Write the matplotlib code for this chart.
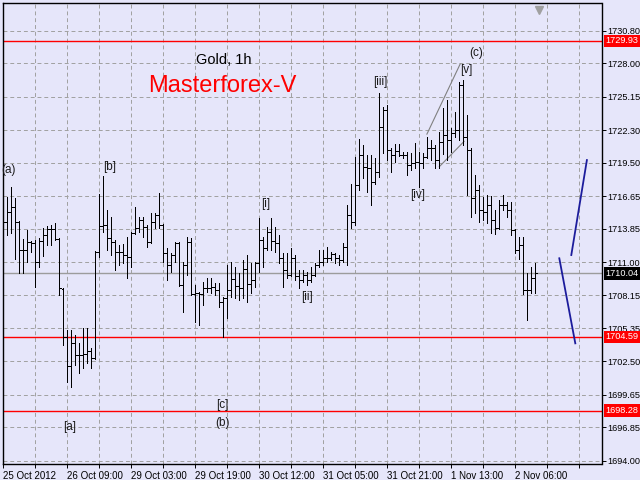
import matplotlib
matplotlib.use("Agg")
import matplotlib.pyplot as plt
import matplotlib.transforms as mtransforms
from matplotlib.collections import LineCollection

plt.rcParams["font.family"] = ["Liberation Sans", "DejaVu Sans"]

BG = "#e6e6fa"

# hourly OHLC, Gold, 25 Oct 2012 17:00 .. 2 Nov 2012
opens = [
    1715.88, 1714.43, 1715.28, 1715.71, 1714.43, 1712.03, 1712.03, 1712.72, 1712.63, 1711.00,
    1712.80, 1713.31, 1713.83, 1713.83, 1712.97, 1708.69, 1704.60, 1702.10, 1704.07, 1703.04,
    1703.04, 1703.13, 1703.39, 1702.79, 1711.86, 1714.09, 1714.17, 1713.06, 1712.72, 1711.86,
    1711.86, 1711.60, 1711.43, 1713.48, 1713.91, 1714.60, 1714.00, 1712.72, 1714.43, 1715.03,
    1714.17, 1711.77, 1710.75, 1711.60, 1712.63, 1709.03, 1710.75, 1712.72, 1708.26, 1708.35,
    1708.26, 1708.78, 1708.78, 1708.86, 1708.61, 1707.58, 1707.92, 1708.61, 1709.55, 1708.95,
    1708.78, 1710.40, 1709.12, 1709.46, 1710.92, 1712.89, 1712.20, 1713.57, 1712.80, 1712.63,
    1711.34, 1710.32, 1709.89, 1711.34, 1709.80, 1709.46, 1709.89, 1709.46, 1709.89, 1710.75,
    1711.00, 1711.34, 1711.34, 1711.69, 1711.34, 1711.17, 1712.29, 1715.03, 1714.43, 1717.59,
    1720.16, 1719.13, 1719.05, 1717.85, 1718.71, 1722.56, 1724.01, 1720.59, 1720.16, 1720.50,
    1720.16, 1720.16, 1719.30, 1719.48, 1719.56, 1719.48, 1719.99, 1720.76, 1720.76, 1719.73,
    1721.27, 1721.87, 1721.45, 1722.04, 1722.30, 1726.15, 1721.70, 1720.59, 1716.48, 1717.17,
    1715.45, 1715.28, 1715.88, 1714.60, 1713.91, 1715.88, 1715.88, 1715.45, 1713.74, 1712.03,
    1712.46, 1708.61, 1708.61, 1709.63,
]
highs = [
    1717.00, 1716.57, 1717.42, 1716.49, 1714.51, 1712.97, 1713.74, 1712.80, 1712.89, 1713.06,
    1713.91, 1714.09, 1714.17, 1714.34, 1713.06, 1708.78, 1705.18, 1705.18, 1704.75, 1704.07,
    1705.35, 1705.35, 1703.64, 1711.95, 1716.82, 1718.37, 1715.45, 1714.86, 1712.89, 1712.46,
    1712.54, 1713.14, 1713.57, 1715.71, 1714.86, 1714.86, 1714.17, 1715.20, 1715.20, 1716.91,
    1714.26, 1712.20, 1711.77, 1712.72, 1712.72, 1711.00, 1713.14, 1713.06, 1709.03, 1708.43,
    1709.29, 1709.63, 1709.63, 1709.20, 1709.20, 1708.01, 1710.75, 1711.00, 1710.57, 1710.06,
    1711.17, 1711.60, 1710.92, 1711.00, 1714.77, 1713.14, 1714.00, 1714.77, 1714.00, 1713.31,
    1711.77, 1711.77, 1712.20, 1711.60, 1710.32, 1710.32, 1710.15, 1710.57, 1710.92, 1712.03,
    1712.03, 1712.29, 1711.86, 1711.77, 1711.60, 1712.63, 1715.88, 1717.68, 1719.99, 1721.53,
    1721.02, 1720.16, 1720.16, 1719.91, 1725.47, 1724.27, 1724.44, 1720.76, 1721.10, 1721.10,
    1720.42, 1720.42, 1720.33, 1721.19, 1720.42, 1720.33, 1721.70, 1721.45, 1721.02, 1722.13,
    1724.18, 1724.87, 1722.47, 1723.84, 1726.41, 1726.58, 1723.59, 1720.76, 1718.45, 1717.59,
    1716.57, 1716.74, 1716.65, 1715.45, 1716.31, 1716.74, 1716.14, 1716.14, 1713.83, 1713.14,
    1713.14, 1710.06, 1710.57, 1710.92,
]
lows = [
    1712.29, 1713.31, 1713.48, 1711.26, 1710.06, 1710.06, 1711.00, 1711.86, 1708.86, 1710.57,
    1711.52, 1712.46, 1712.46, 1712.89, 1708.18, 1703.90, 1700.73, 1700.30, 1702.19, 1701.50,
    1701.93, 1702.36, 1701.93, 1702.70, 1711.43, 1713.57, 1712.03, 1711.60, 1710.32, 1710.75,
    1710.92, 1709.63, 1710.57, 1713.40, 1713.57, 1713.14, 1712.29, 1712.63, 1713.91, 1713.91,
    1711.00, 1709.46, 1710.15, 1711.00, 1708.95, 1706.72, 1709.89, 1708.18, 1705.87, 1705.61,
    1707.32, 1708.43, 1708.35, 1708.18, 1707.15, 1704.59, 1706.21, 1708.01, 1707.92, 1707.75,
    1707.92, 1707.58, 1708.35, 1708.86, 1710.15, 1710.57, 1712.03, 1712.03, 1711.86, 1710.92,
    1708.86, 1709.63, 1709.80, 1709.46, 1708.78, 1709.29, 1709.03, 1709.29, 1709.80, 1710.57,
    1710.75, 1711.00, 1711.17, 1710.92, 1710.75, 1711.00, 1710.75, 1713.91, 1714.17, 1717.17,
    1718.19, 1717.00, 1715.88, 1717.68, 1718.28, 1720.33, 1719.73, 1718.71, 1719.56, 1720.07,
    1719.91, 1718.45, 1718.88, 1719.05, 1717.42, 1719.05, 1719.91, 1719.73, 1719.05, 1719.05,
    1720.25, 1719.73, 1720.42, 1721.70, 1721.45, 1721.02, 1716.74, 1714.86, 1715.20, 1714.43,
    1714.60, 1714.34, 1713.48, 1713.40, 1713.83, 1715.45, 1714.86, 1713.31, 1711.77, 1711.26,
    1708.26, 1706.04, 1708.35, 1708.35,
]
closes = [
    1714.43, 1715.28, 1715.71, 1714.43, 1712.03, 1712.03, 1712.72, 1712.63, 1711.00, 1712.80,
    1713.31, 1713.83, 1713.83, 1712.97, 1708.78, 1704.60, 1702.10, 1704.07, 1703.04, 1703.04,
    1703.13, 1703.39, 1702.79, 1711.86, 1714.09, 1714.17, 1713.06, 1712.72, 1711.86, 1711.86,
    1711.60, 1711.43, 1713.48, 1713.91, 1714.60, 1714.00, 1712.72, 1714.43, 1715.03, 1714.17,
    1711.77, 1710.75, 1711.60, 1712.63, 1709.03, 1710.75, 1712.72, 1708.26, 1708.35, 1708.26,
    1708.78, 1708.78, 1708.86, 1708.61, 1707.58, 1707.92, 1708.61, 1709.55, 1708.95, 1708.78,
    1710.40, 1709.12, 1709.46, 1710.92, 1712.89, 1712.20, 1713.57, 1712.80, 1712.63, 1711.34,
    1710.32, 1709.89, 1711.34, 1709.80, 1709.46, 1709.89, 1709.46, 1709.89, 1710.75, 1711.00,
    1711.34, 1711.34, 1711.69, 1711.34, 1711.17, 1712.29, 1715.03, 1714.43, 1717.59, 1720.16,
    1719.13, 1719.05, 1717.85, 1718.71, 1722.56, 1724.01, 1720.59, 1720.16, 1720.50, 1720.16,
    1720.16, 1719.30, 1719.48, 1719.56, 1719.48, 1719.99, 1720.76, 1720.76, 1719.73, 1721.27,
    1721.87, 1721.45, 1722.04, 1722.30, 1726.15, 1721.70, 1720.59, 1716.48, 1717.17, 1715.45,
    1715.28, 1715.88, 1714.60, 1713.91, 1715.88, 1715.88, 1715.45, 1713.74, 1712.03, 1712.46,
    1708.61, 1708.61, 1709.63, 1710.04,
]

# time axis labels (every 16 bars)
date_labels = ["25 Oct 2012", "26 Oct 09:00", "29 Oct 03:00", "29 Oct 19:00", "30 Oct 12:00",
               "31 Oct 05:00", "31 Oct 21:00", "1 Nov 13:00", "2 Nov 06:00"]
price_ticks = [1694.00, 1696.85, 1699.65, 1702.50, 1705.35, 1708.15, 1711.00,
               1713.85, 1716.65, 1719.50, 1722.30, 1725.15, 1728.00, 1730.80]

red_levels = [1729.93, 1704.59, 1698.28]
bid = 1710.04

# wave labels: (text, bar, price)
wave_labels = [
    ("(a)", 1.4, 1718.88), ("[b]", 26.7, 1719.13), ("[a]", 16.7, 1696.87),
    ("[c]", 54.7, 1698.76), ("(b)", 54.7, 1697.22), ("[i]", 65.7, 1715.97),
    ("[ii]", 75.9, 1708.0), ("[iii]", 94.2, 1726.41), ("[iv]", 103.7, 1716.74),
    ("[v]", 115.7, 1727.44), ("(c)", 118.2, 1728.9),
]
# wedge trend lines and forecast lines: ([x0, x1], [y0, y1])
wedge_upper = ([105.9, 114.2], [1721.95, 1727.94])
wedge_lower = ([109.0, 115.2], [1719.16, 1721.33])
forecast_down = ([139.0, 143.0], [1711.32, 1704.04])
forecast_up = ([142.0, 145.9], [1711.60, 1719.73])

fig = plt.figure(figsize=(6.4, 4.8), dpi=100, facecolor=BG)
ax = fig.add_axes([2.7 / 640, 1 - 464 / 480, (601.5 - 2.7) / 640, (464 - 3.3) / 480])
ax.set_facecolor(BG)
ax.set_xlim(-0.15, 149.55)
ax.set_ylim(1693.71, 1733.15)

# OHLC bars
segs = []
for i, (o, h, l, c) in enumerate(zip(opens, highs, lows, closes)):
    segs.append([(i, l), (i, h)])
    segs.append([(i - 0.35, o), (i, o)])
    segs.append([(i, c), (i + 0.35, c)])
ax.add_collection(LineCollection(segs, colors="black", linewidths=0.6,
                                 antialiaseds=False, zorder=3))

# grid and ticks
xt = list(range(0, 145, 8))
xl = [date_labels[k // 16] if k % 16 == 0 and k // 16 < len(date_labels) else "" for k in xt]
ax.set_xticks(xt)
ax.set_xticklabels(xl, ha="left")
ax.set_yticks(price_ticks)
ax.set_yticklabels([f"{p:.2f}" for p in price_ticks])
ax.yaxis.tick_right()
ax.tick_params(axis="x", length=3, width=0.7, pad=2, labelsize=7)
ax.tick_params(axis="y", length=3, width=0.7, pad=1, labelsize=6.6)
ax.grid(True, color="#a0a0a0", linestyle=(0, (4, 3)), linewidth=0.7, zorder=0)
for sp in ax.spines.values():
    sp.set_color("black")
    sp.set_linewidth(1.0)

# horizontal levels
for lv in red_levels:
    ax.axhline(lv, color="#ff0000", linewidth=1.0, zorder=2)
ax.axhline(bid, color="#9c9c9c", linewidth=1.0, zorder=2)

trans = mtransforms.blended_transform_factory(ax.transAxes, ax.transData)
for lv in red_levels:
    ax.text(1.007, lv, f"{lv:.2f}", transform=trans, ha="left", va="center", fontsize=6.6,
            color="white", clip_on=False, zorder=6,
            bbox=dict(boxstyle="square,pad=0.2", fc="#ff0000", ec="none"))
ax.text(1.007, bid, f"{bid:.2f}", transform=trans, ha="left", va="center", fontsize=6.6,
        color="white", clip_on=False, zorder=6,
        bbox=dict(boxstyle="square,pad=0.2", fc="black", ec="none"))

# wave markup
for txt, x, y in wave_labels:
    ax.text(x, y, txt, ha="center", va="center", fontsize=8.5, color="#1a1a1a", zorder=5)
ax.plot(*wedge_upper, color="#808080", linewidth=0.8, zorder=2)
ax.plot(*wedge_lower, color="#808080", linewidth=0.8, zorder=2)
ax.plot(*forecast_down, color="#1c1c9c", linewidth=1.3, zorder=4)
ax.plot(*forecast_up, color="#1c1c9c", linewidth=1.3, zorder=4)

ax.text(55.2, 1728.3, "Gold, 1h", ha="center", va="center", fontsize=10.5, color="black")
ax.text(54.7, 1726.07, "Masterforex-V", ha="center", va="center", fontsize=17, color="#ff0000")

# chart shift marker
trans2 = mtransforms.blended_transform_factory(ax.transData, ax.transAxes)
ax.plot([134], [0.985], marker="v", color="#a0a0a0", markersize=6, transform=trans2,
        clip_on=False, zorder=6)

fig.savefig("out.png", dpi=100, facecolor=BG)
